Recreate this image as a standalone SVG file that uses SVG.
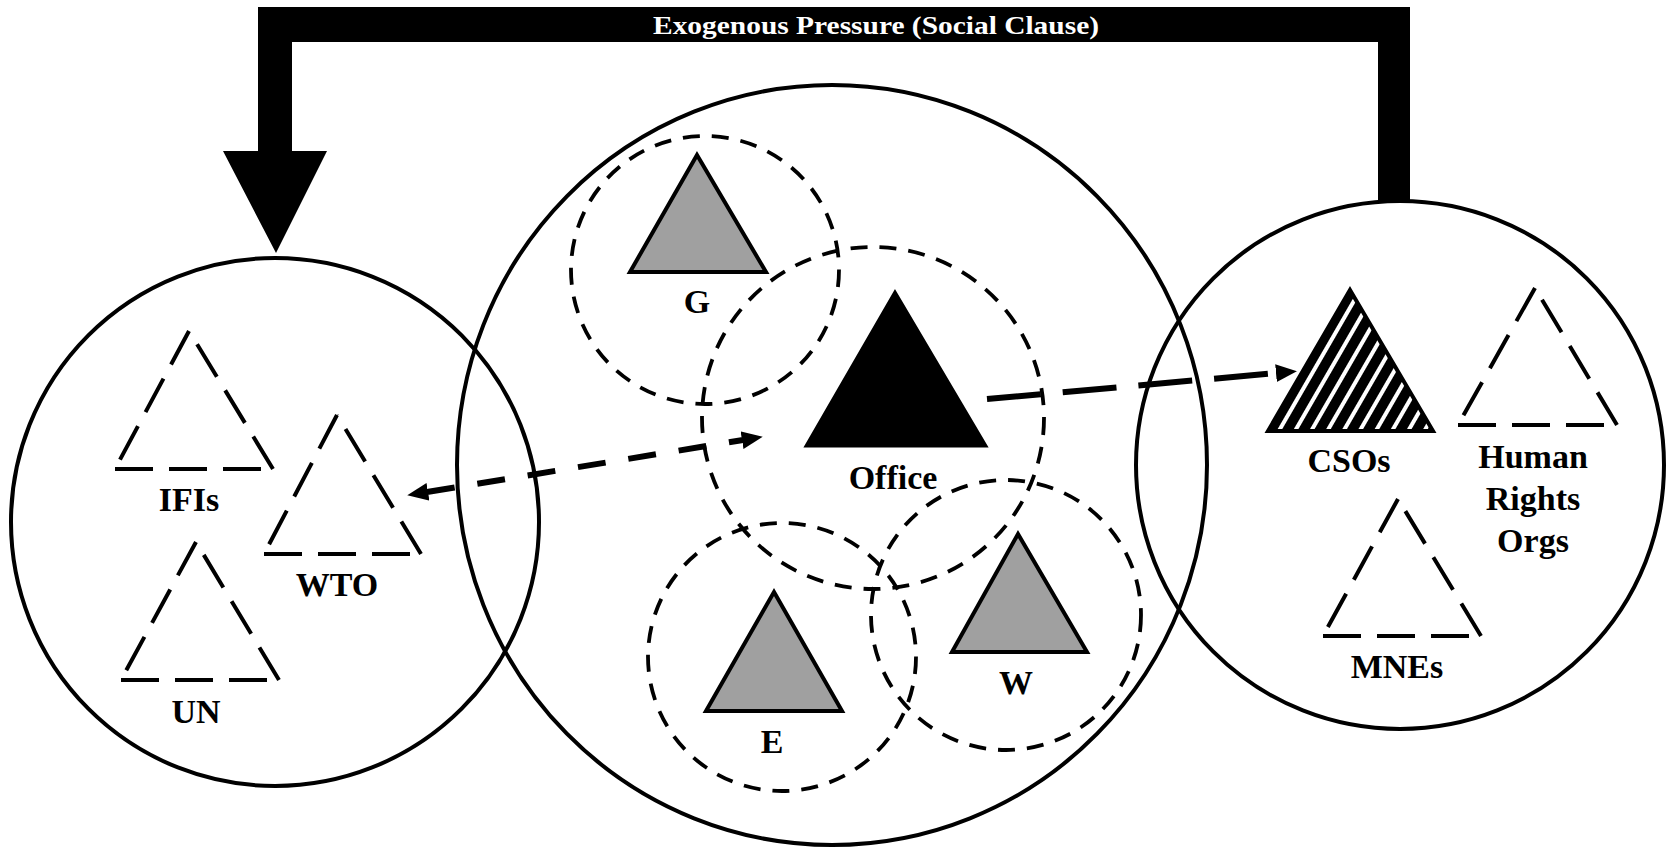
<svg xmlns="http://www.w3.org/2000/svg" width="1667" height="848" viewBox="0 0 1667 848">
<style>
.big{fill:none;stroke:#000;stroke-width:4}
.dc{fill:none;stroke:#000;stroke-width:3.8;stroke-dasharray:17 12}
.gt{fill:#a0a0a0;stroke:#000;stroke-width:4;stroke-linejoin:miter}
.dt{fill:none;stroke:#000;stroke-width:4;stroke-dasharray:38 16}
.lbl{font-family:"Liberation Serif","Times New Roman",serif;font-weight:bold;font-size:34px;text-anchor:middle;fill:#000}
.dash1{fill:none;stroke:#000;stroke-width:6;stroke-dasharray:28 23}
.dash2{fill:none;stroke:#000;stroke-width:6;stroke-dasharray:54 22}
</style>
<defs>
<marker id="ah" markerUnits="userSpaceOnUse" markerWidth="22" markerHeight="20" refX="1" refY="9" orient="auto-start-reverse" viewBox="0 0 22 20">
<path d="M0,0 L21,9 L0,18 z" fill="#000"/>
</marker>
<pattern id="hatch" patternUnits="userSpaceOnUse" width="14" height="14" patternTransform="rotate(30)">
<rect width="14" height="14" fill="#000"/>
<rect x="5" y="0" width="4" height="14" fill="#fff"/>
</pattern>
</defs>
<rect width="1667" height="848" fill="#fff"/>

<g id="left-group">
<circle class="big" cx="275" cy="522" r="264"/>
<g id="IFIs">
<path class="dt" d="M115,469 L273,469 M273,469 L189,331 M189,331 L115,469"/>
<text class="lbl" x="189" y="511">IFIs</text>
</g>
<g id="WTO">
<path class="dt" d="M264,554 L421,554 M421,554 L337,415 M337,415 L264,554"/>
<text class="lbl" x="337" y="596">WTO</text>
</g>
<g id="UN">
<path class="dt" d="M121,680 L279,680 M279,680 L196,542 M196,542 L121,680"/>
<text class="lbl" x="196" y="723">UN</text>
</g>
</g>

<g id="center-group">
<ellipse class="big" cx="832" cy="465" rx="375" ry="380"/>
<g id="G">
<circle class="dc" cx="705" cy="270" r="134"/>
<polygon class="gt" points="697,155 766,272 630,272"/>
<text class="lbl" x="697" y="313">G</text>
</g>
<g id="Office">
<circle class="dc" cx="873" cy="418" r="171"/>
<polygon points="895,292 986,446 806,446" fill="#000" stroke="#000" stroke-width="3"/>
<text class="lbl" x="893" y="489">Office</text>
</g>
<g id="E">
<circle class="dc" cx="782" cy="657" r="134"/>
<polygon class="gt" points="774,592 842,711 706,711"/>
<text class="lbl" x="772" y="753">E</text>
</g>
<g id="W">
<circle class="dc" cx="1006" cy="615" r="135"/>
<polygon class="gt" points="1018,534 1087,652 952,652"/>
<text class="lbl" x="1016" y="694">W</text>
</g>
</g>

<g id="right-group">
<circle class="big" cx="1400" cy="465" r="264"/>
<g id="CSOs">
<polygon points="1350,290 1433,431 1268,431" fill="url(#hatch)" stroke="#000" stroke-width="4"/>
<text class="lbl" x="1349" y="472">CSOs</text>
</g>
<g id="HRO">
<path class="dt" d="M1458,425 L1617,425 M1617,425 L1535,288 M1535,288 L1458,425"/>
<text class="lbl" x="1533" y="468">Human</text>
<text class="lbl" x="1533" y="510">Rights</text>
<text class="lbl" x="1533" y="552">Orgs</text>
</g>
<g id="MNEs">
<path class="dt" d="M1323,636 L1481,636 M1481,636 L1398,499 M1398,499 L1323,636"/>
<text class="lbl" x="1397" y="678">MNEs</text>
</g>
</g>

<g id="connectors">
<g id="exogenous">
<polygon points="258,7 1410,7 1410,200 1378,200 1378,42 292,42 292,151 327,151 276,253 223,151 258,151" fill="#000"/>
<text x="876" y="34" font-family="'Liberation Serif','Times New Roman',serif" font-weight="bold" font-size="26" fill="#fff" text-anchor="middle" textLength="446" lengthAdjust="spacingAndGlyphs">Exogenous Pressure (Social Clause)</text>
</g>
<path id="wto-office" class="dash1" d="M427,492 L743,440" marker-start="url(#ah)" marker-end="url(#ah)"/>
<path id="office-cso" class="dash2" d="M987,399 L1277,373" marker-end="url(#ah)"/>
</g>
</svg>
